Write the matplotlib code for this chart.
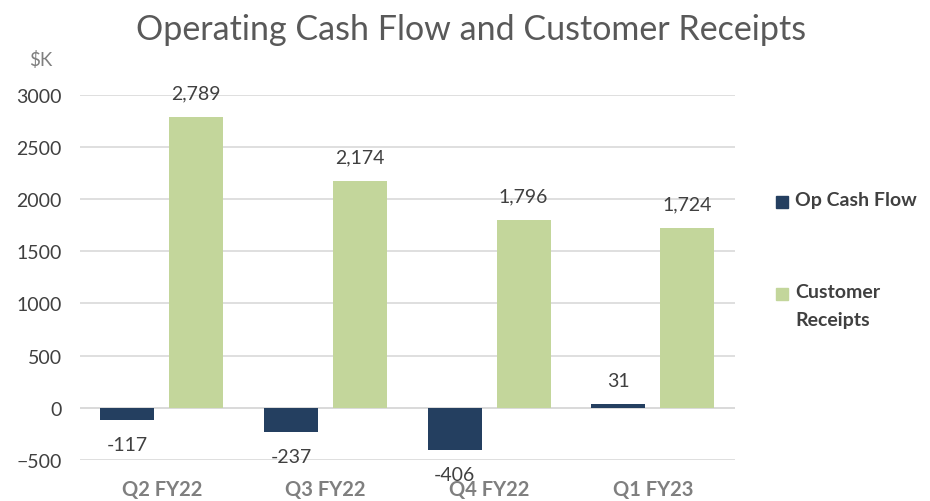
import numpy as np
import matplotlib.pyplot as plt
from matplotlib.patches import Rectangle

quarters = ['Q2 FY22', 'Q3 FY22', 'Q4 FY22', 'Q1 FY23']
op_cash_flow = [-117, -237, -406, 31]
customer_receipts = [2789, 2174, 1796, 1724]
series_names = ['Op Cash Flow', 'Customer\nReceipts']

dark = '#243F60'
green = '#C3D69B'
text_col = '#404040'

plt.rcParams['font.family'] = ['Lato', 'DejaVu Sans']

fig = plt.figure(figsize=(9.3, 5.02), dpi=100)
ax = fig.add_axes([0.086, 0.082, 0.704, 0.727])

x = np.arange(len(quarters))
w = 0.33
off = 0.21
ax.bar(x - off, op_cash_flow, w, color=dark, zorder=3)
ax.bar(x + off, customer_receipts, w, color=green, zorder=3)

for xi, v in zip(x, op_cash_flow):
    if v < 0:
        ax.text(xi - off, v - 150, f'{v:,}', ha='center', va='top', fontsize=14, color=text_col)
    else:
        ax.text(xi - off, v + 150, f'{v:,}', ha='center', va='bottom', fontsize=14, color=text_col)
for xi, v in zip(x, customer_receipts):
    ax.text(xi + off, v + 150, f'{v:,}', ha='center', va='bottom', fontsize=14, color=text_col)

ax.set_xlim(-0.5, 3.5)
ax.set_ylim(-500, 3000)
ax.set_yticks(range(-500, 3001, 500))
ax.yaxis.grid(True, color='#d9d9d9', linewidth=1.2, zorder=0)
ax.tick_params(axis='y', length=0, labelsize=14, labelcolor=text_col, pad=13)
ax.set_xticks(x)
ax.set_xticklabels(quarters, fontsize=14.5, fontweight='bold', color='#7f7f7f')
ax.tick_params(axis='x', length=0, pad=14)
for s in ax.spines.values():
    s.set_visible(False)
ax.axhline(0, color='#d9d9d9', linewidth=1.2, zorder=1)

fig.text(0.507, 0.94, 'Operating Cash Flow and Customer Receipts', ha='center', va='center',
         fontsize=24.5, color='#595959')
fig.text(0.044, 0.88, '$K', ha='center', va='center', fontsize=13.5, color='#7f7f7f')

# legend drawn by hand to match the stacked layout
leg_y = [1 - 203 / 502, 1 - 295 / 502]
for col, name, yy in zip([dark, green], series_names, leg_y):
    fig.patches.append(Rectangle((776 / 930, yy - 6 / 502), 12 / 930, 12 / 502,
                                 transform=fig.transFigure, color=col))
    fig.text(795 / 930, yy + 11 / 502, name, ha='left', va='top', fontsize=14,
             fontweight='bold', color=text_col, linespacing=1.8)

fig.savefig('out.png', dpi=100)
